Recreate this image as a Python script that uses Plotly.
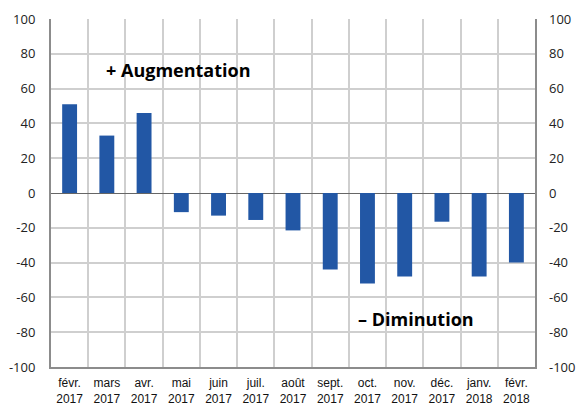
import plotly.graph_objects as go

months = ["févr.<br>2017", "mars<br>2017", "avr.<br>2017", "mai<br>2017", "juin<br>2017",
          "juil.<br>2017", "août<br>2017", "sept.<br>2017", "oct.<br>2017", "nov.<br>2017",
          "déc.<br>2017", "janv.<br>2018", "févr.<br>2018"]
values = [51, 33, 46, -11, -13, -15.5, -21.5, -44, -52, -48, -16.5, -48, -40]
y_ticks = [-100, -80, -60, -40, -20, 0, 20, 40, 60, 80, 100]
y_labels = ["-100", "-80", "-60", "-40", "-20", "0", "20", "40", "60", "80", "100"]

fig = go.Figure()
fig.add_trace(go.Bar(x=months, y=values, marker=dict(color="#2257a5", line=dict(width=0)),
                     width=0.4, showlegend=False))
fig.add_trace(go.Scatter(x=months[:1], y=[0], yaxis="y2", mode="markers",
                         marker=dict(opacity=0), showlegend=False, hoverinfo="skip"))

axis_font = dict(family="Open Sans, sans-serif", size=13, color="#222")
L, R, T, B = 51, 44, 19, 39
fig.update_layout(
    width=579, height=406,
    margin=dict(l=L, r=R, t=T, b=B),
    paper_bgcolor="white", plot_bgcolor="white",
    xaxis=dict(type="category", tickson="boundaries", showgrid=True, gridcolor="#cfcfcf",
               gridwidth=1.5, ticks="", showline=True, linecolor="#8c8c8c", linewidth=2,
               automargin=False, ticklabelstandoff=4, range=[-0.5, len(months) - 0.5],
               tickfont=dict(family="Liberation Sans, Arial, sans-serif", size=12, color="#111")),
    yaxis=dict(range=[-100, 100], tickvals=y_ticks, ticktext=y_labels, showgrid=True,
               gridcolor="#cfcfcf", gridwidth=1.5, zeroline=True, zerolinecolor="#666",
               zerolinewidth=1, showline=True, linecolor="#8c8c8c", linewidth=2, mirror=True,
               tickfont=axis_font, ticks="", ticklabelstandoff=11, automargin=False),
    yaxis2=dict(range=[-100, 100], tickvals=y_ticks, ticktext=y_labels, overlaying="y",
                side="right", showgrid=False, zeroline=False, tickfont=axis_font, ticks="",
                ticklabelstandoff=13, automargin=False),
)
pw, ph = 579 - L - R, 406 - T - B
for txt, px, py in [("<b>+ Augmentation</b>", 178, 70), ("<b>– Diminution</b>", 416, 319)]:
    fig.add_annotation(text=txt, x=(px - L) / pw, y=1 - (py - T) / ph, xref="paper",
                       yref="paper", xanchor="center", yanchor="middle", showarrow=False,
                       font=dict(family="Open Sans, sans-serif", size=18, color="black"))
fig.write_html("out.html", config={"displayModeBar": False},
               post_script="document.body.style.margin='0';")
